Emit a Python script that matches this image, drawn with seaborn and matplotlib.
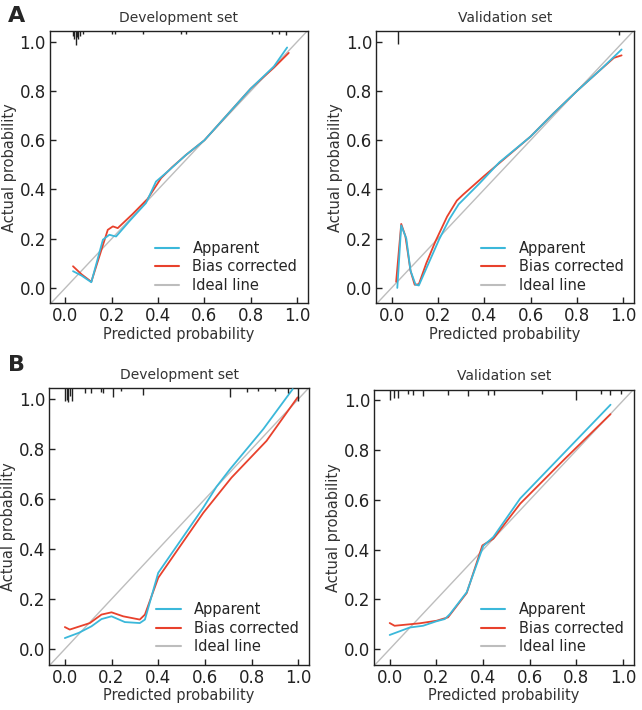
import numpy as np
import matplotlib
matplotlib.use('Agg')
import matplotlib.pyplot as plt
import seaborn as sns
import pandas as pd

# curvas de calibracao
a_dev_app_x = [0.033, 0.07, 0.112, 0.162, 0.19, 0.205, 0.219, 0.28, 0.348, 0.391, 0.45, 0.52, 0.6, 0.7, 0.8, 0.9, 0.957]
a_dev_app_y = [0.068, 0.05, 0.023, 0.196, 0.216, 0.212, 0.209, 0.275, 0.345, 0.432, 0.48, 0.54, 0.6, 0.705, 0.81, 0.9, 0.977]
a_dev_bc_x = [0.033, 0.07, 0.112, 0.183, 0.205, 0.226, 0.29, 0.355, 0.413, 0.46, 0.52, 0.6, 0.7, 0.8, 0.9, 0.964]
a_dev_bc_y = [0.088, 0.055, 0.025, 0.236, 0.25, 0.243, 0.3, 0.362, 0.446, 0.49, 0.54, 0.6, 0.705, 0.81, 0.895, 0.955]

a_val_app_x = [0.025, 0.042, 0.064, 0.082, 0.104, 0.118, 0.16, 0.205, 0.25, 0.29, 0.38, 0.465, 0.6, 0.7, 0.8, 0.9, 0.993]
a_val_app_y = [0.0, 0.254, 0.2, 0.07, 0.013, 0.01, 0.1, 0.196, 0.28, 0.34, 0.425, 0.51, 0.615, 0.71, 0.8, 0.885, 0.969]
a_val_bc_x = [0.02, 0.042, 0.06, 0.082, 0.1, 0.118, 0.15, 0.19, 0.24, 0.282, 0.31, 0.4, 0.5, 0.6, 0.7, 0.8, 0.9, 0.96, 0.993]
a_val_bc_y = [0.025, 0.26, 0.21, 0.07, 0.013, 0.015, 0.1, 0.19, 0.29, 0.355, 0.38, 0.455, 0.535, 0.615, 0.71, 0.8, 0.885, 0.935, 0.945]

b_dev_app_x = [0.0, 0.06, 0.114, 0.157, 0.2, 0.257, 0.321, 0.343, 0.4, 0.5, 0.593, 0.65, 0.707, 0.85, 0.976]
b_dev_app_y = [0.044, 0.065, 0.091, 0.12, 0.131, 0.108, 0.104, 0.118, 0.305, 0.44, 0.566, 0.65, 0.719, 0.88, 1.04]
b_dev_bc_x = [0.0, 0.021, 0.107, 0.157, 0.2, 0.25, 0.321, 0.343, 0.4, 0.5, 0.593, 0.714, 0.864, 0.997]
b_dev_bc_y = [0.088, 0.078, 0.104, 0.138, 0.147, 0.131, 0.118, 0.138, 0.285, 0.42, 0.545, 0.686, 0.833, 1.007]

b_val_app_x = [0.0, 0.086, 0.143, 0.2, 0.236, 0.258, 0.33, 0.401, 0.444, 0.559, 0.75, 0.946]
b_val_app_y = [0.057, 0.087, 0.094, 0.112, 0.121, 0.141, 0.229, 0.415, 0.451, 0.606, 0.792, 0.983]
b_val_bc_x = [0.0, 0.021, 0.129, 0.2, 0.25, 0.33, 0.397, 0.444, 0.559, 0.75, 0.946]
b_val_bc_y = [0.105, 0.094, 0.104, 0.114, 0.128, 0.226, 0.417, 0.444, 0.585, 0.765, 0.945]

# "rug" de frequencias no topo
a_dev_rug_x = [0.033, 0.038, 0.044, 0.05, 0.056, 0.062, 0.075, 0.2, 0.215, 0.335, 0.5, 0.52, 0.89, 0.92, 0.95]
a_dev_rug_h = [0.02, 0.03, 0.055, 0.025, 0.03, 0.02, 0.012, 0.01, 0.01, 0.01, 0.01, 0.01, 0.012, 0.01, 0.015]
a_val_rug_x = [0.03, 0.98]
a_val_rug_h = [0.05, 0.015]
b_dev_rug_x = [0.0, 0.008, 0.013, 0.02, 0.03, 0.086, 0.114, 0.157, 0.164, 0.206, 0.24, 0.336, 0.707, 0.78, 0.826, 0.9, 0.957, 0.997]
b_dev_rug_h = [0.05, 0.045, 0.055, 0.03, 0.05, 0.02, 0.02, 0.015, 0.02, 0.035, 0.01, 0.025, 0.035, 0.015, 0.01, 0.01, 0.02, 0.05]
b_val_rug_x = [0.0, 0.02, 0.036, 0.079, 0.1, 0.142, 0.25, 0.335, 0.42, 0.445, 0.652, 0.8, 0.907, 0.943, 0.99]
b_val_rug_h = [0.04, 0.035, 0.035, 0.015, 0.02, 0.025, 0.02, 0.025, 0.02, 0.02, 0.015, 0.04, 0.015, 0.02, 0.015]

titulos = ['Development set', 'Validation set']
cor_app = '#3bb8da'
cor_bc = '#e8412c'
cor_ideal = '#bdbdbd'

sns.set_style('ticks')
plt.rcParams['font.family'] = ['DejaVu Sans']
plt.rcParams['xtick.direction'] = 'in'
plt.rcParams['ytick.direction'] = 'in'

fig = plt.figure(figsize=(6.42, 7.10), dpi=100)

posicoes = [
    [0.078, 0.573, 0.401, 0.383],
    [0.586, 0.573, 0.401, 0.383],
    [0.077, 0.064, 0.404, 0.389],
    [0.583, 0.064, 0.404, 0.387],
]

paineis = [
    (a_dev_app_x, a_dev_app_y, a_dev_bc_x, a_dev_bc_y, a_dev_rug_x, a_dev_rug_h, titulos[0]),
    (a_val_app_x, a_val_app_y, a_val_bc_x, a_val_bc_y, a_val_rug_x, a_val_rug_h, titulos[1]),
    (b_dev_app_x, b_dev_app_y, b_dev_bc_x, b_dev_bc_y, b_dev_rug_x, b_dev_rug_h, titulos[0]),
    (b_val_app_x, b_val_app_y, b_val_bc_x, b_val_bc_y, b_val_rug_x, b_val_rug_h, titulos[1]),
]

XLIM = (-0.066, 1.045)
YLIM = (-0.062, 1.043)

for pos, (ax_, ay_, bx_, by_, rx, rh, titulo) in zip(posicoes, paineis):
    ax = fig.add_axes(pos)
    ax.axline((0, 0), slope=1, color=cor_ideal, lw=1.0, zorder=1)
    sns.lineplot(x=ax_, y=ay_, color=cor_app, lw=1.3, sort=False, ax=ax, zorder=3)
    sns.lineplot(x=bx_, y=by_, color=cor_bc, lw=1.3, sort=False, ax=ax, zorder=2)
    ax.vlines(rx, YLIM[1] - np.array(rh), YLIM[1], color='#222222', lw=1.0, zorder=4)

    ax.set_xlim(XLIM)
    ax.set_ylim(YLIM)
    ax.set_xticks(np.arange(0, 1.01, 0.2))
    ax.set_yticks(np.arange(0, 1.01, 0.2))
    ax.set_xticklabels([f'{v:.1f}' for v in np.arange(0, 1.01, 0.2)])
    ax.set_yticklabels([f'{v:.1f}' for v in np.arange(0, 1.01, 0.2)])
    ax.tick_params(labelsize=12, length=4, width=1, color='#222222', labelcolor='#222222', pad=3)
    for s in ax.spines.values():
        s.set_color('#222222')
        s.set_linewidth(1.0)
    ax.set_xlabel('Predicted probability', fontsize=10.5, color='#333333', labelpad=1)
    ax.set_ylabel('Actual probability', fontsize=10.5, color='#333333', labelpad=2)
    ax.set_title(titulo, fontsize=10, color='#333333', pad=7)

    handles = [
        plt.Line2D([], [], color=cor_app, lw=1.5),
        plt.Line2D([], [], color=cor_bc, lw=1.5),
        plt.Line2D([], [], color=cor_ideal, lw=1.5),
    ]
    ax.legend(handles, ['Apparent', 'Bias corrected', 'Ideal line'], loc='lower right',
              frameon=False, fontsize=10.5, handlelength=1.7, handletextpad=0.9,
              labelspacing=0.25, borderaxespad=0.3)

fig.text(0.012, 0.978, 'A', fontsize=16, fontweight='bold', va='center', ha='left')
fig.text(0.012, 0.486, 'B', fontsize=16, fontweight='bold', va='center', ha='left')

fig.savefig('out.png', dpi=100)
